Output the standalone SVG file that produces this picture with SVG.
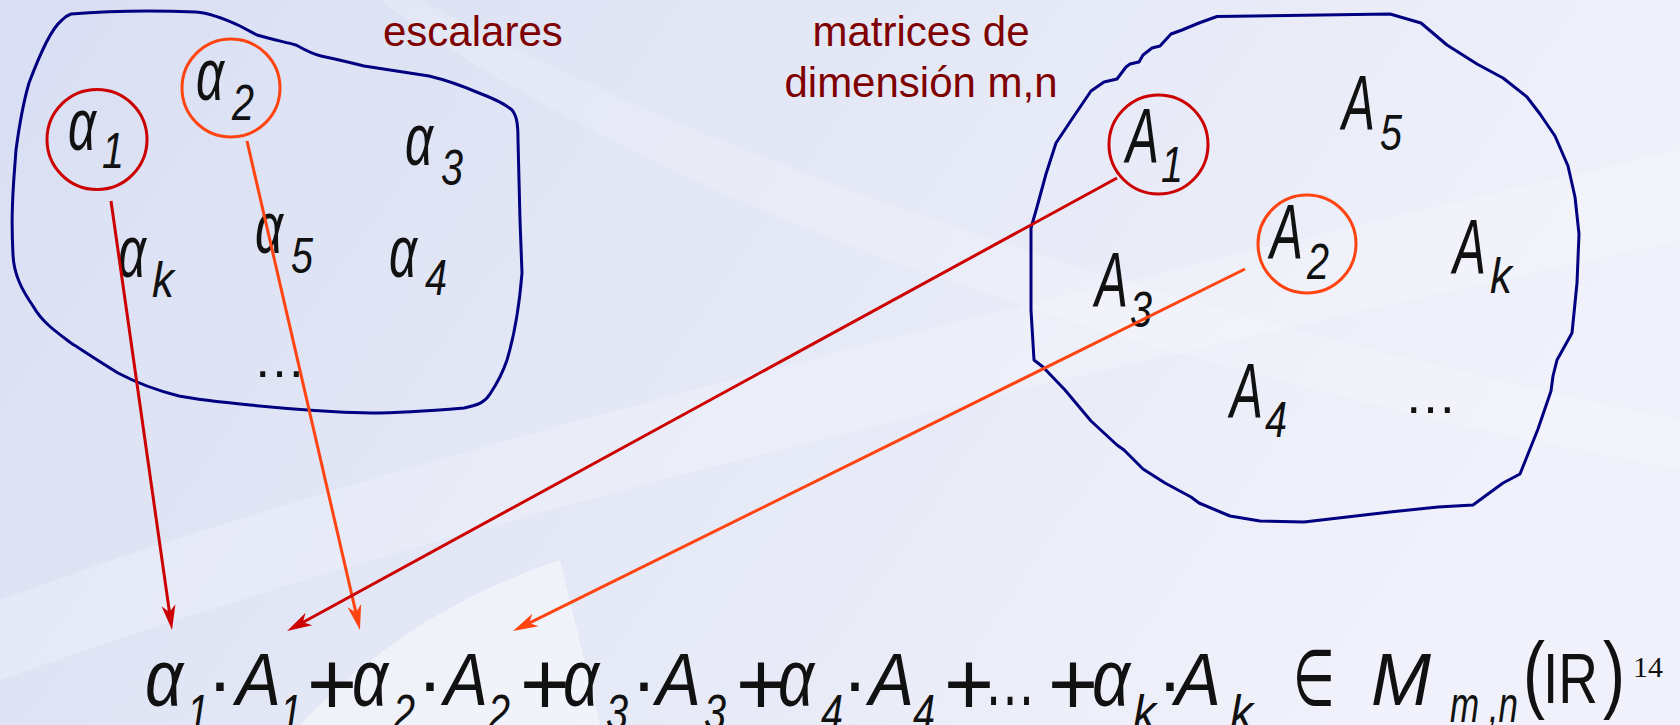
<svg xmlns="http://www.w3.org/2000/svg" width="1680" height="725" viewBox="0 0 1680 725">
<defs>
<linearGradient id="bg" x1="0" y1="0" x2="1" y2="0.3">
<stop offset="0" stop-color="#d9dff3"/>
<stop offset="0.5" stop-color="#e4e8f6"/>
<stop offset="1" stop-color="#f0f1fa"/>
</linearGradient>
<marker id="arR" markerUnits="userSpaceOnUse" markerWidth="30" markerHeight="16" refX="15" refY="7" orient="auto" overflow="visible">
<path d="M25,7 L0,0 L7,7 L0,14 Z" fill="#cc0000"/>
</marker>
<marker id="arO" markerUnits="userSpaceOnUse" markerWidth="30" markerHeight="16" refX="15" refY="7" orient="auto" overflow="visible">
<path d="M25,7 L0,0 L7,7 L0,14 Z" fill="#ff4411"/>
</marker>
</defs>
<style>
.t{font-family:"Liberation Sans","DejaVu Sans",sans-serif;fill:#111}
.i{font-style:italic}
.fa{font-size:80px}
.fA{font-size:75px}
.fs{font-size:50px}
.fo{font-size:78px}
.fp{font-size:90px}
.ba{font-size:75px}
.bA{font-size:77px}
.bs{font-size:50px}
.lbl{font-family:"Liberation Sans",sans-serif;font-size:42px;fill:#7f0000}
.blob{fill:none;stroke:#000080;stroke-width:3;stroke-linejoin:round}
.cR{fill:none;stroke:#cc0000;stroke-width:3}
.cO{fill:none;stroke:#ff4411;stroke-width:3}
.lR{stroke:#cc0000;stroke-width:3;fill:none}
.lO{stroke:#ff4411;stroke-width:3;fill:none}
</style>
<rect width="1680" height="725" fill="url(#bg)"/>
<path d="M0,600 C350,470 900,330 1680,150 L1680,240 C1000,390 450,520 0,680 Z" fill="#ffffff" opacity="0.22"/>
<path d="M420,0 C700,150 1100,300 1680,420 L1680,470 C1100,360 650,200 380,0 Z" fill="#ffffff" opacity="0.18"/>
<path d="M300,725 C380,640 470,590 560,560 L600,725 Z" fill="#ffffff" opacity="0.45"/>

<g id="escalares-set">
<path class="blob" d="M71,14 C120,10 170,11 196,12 C210,13 225,19 240,26 L257,35 C270,39 285,42 296,45 C305,50 312,54 321,56 C340,60 352,63 364,66 C390,70 410,73 429,76 C450,81 465,87 479,93 C495,99 505,104 512,110 C517,116 518,125 518,140 L520,220 L522,273 C519,310 513,340 507,360 C503,372 498,382 490,394 C485,402 479,405 464,408 C440,410 400,413 371,413 C330,412 290,409 250,405 C220,402 200,400 179,396 C155,390 135,382 118,373 C100,362 85,352 71,343 C55,331 42,322 33,306 C22,290 14,275 13,255 C12,235 12,217 12.5,205 C13,185 15,165 16,150 C20,120 24,100 29,83 C35,67 40,55 46,43 C51,33 56,25 62,20 C65,17 68,15 71,14 Z"/>
<text class="lbl" x="383" y="46">escalares</text>
</g>
<g id="alpha1">
<circle class="cR" cx="97" cy="139.5" r="50"/>
<text class="t i ba" x="68" y="150" textLength="28" lengthAdjust="spacingAndGlyphs">α</text>
<text class="t i bs" x="102" y="168" textLength="22" lengthAdjust="spacingAndGlyphs">1</text>
</g>
<g id="alpha2">
<circle class="cO" cx="231" cy="88" r="49"/>
<text class="t i ba" x="196" y="100" textLength="28" lengthAdjust="spacingAndGlyphs">α</text>
<text class="t i bs" x="232" y="120" textLength="22" lengthAdjust="spacingAndGlyphs">2</text>
</g>
<g id="alpha3">
<text class="t i ba" x="405" y="165" textLength="28" lengthAdjust="spacingAndGlyphs">α</text>
<text class="t i bs" x="441" y="185" textLength="22" lengthAdjust="spacingAndGlyphs">3</text>
</g>
<g id="alphak">
<text class="t i ba" x="118" y="277" textLength="28" lengthAdjust="spacingAndGlyphs">α</text>
<text class="t i bs" x="152" y="297" textLength="22" lengthAdjust="spacingAndGlyphs">k</text>
</g>
<g id="alpha5">
<text class="t i ba" x="255" y="253" textLength="28" lengthAdjust="spacingAndGlyphs">α</text>
<text class="t i bs" x="291" y="273" textLength="22" lengthAdjust="spacingAndGlyphs">5</text>
</g>
<g id="alpha4">
<text class="t i ba" x="389" y="277" textLength="28" lengthAdjust="spacingAndGlyphs">α</text>
<text class="t i bs" x="425" y="295" textLength="22" lengthAdjust="spacingAndGlyphs">4</text>
</g>
<g id="alpha-dots">
<text class="t" font-size="53" x="253" y="377">…</text>
</g>

<g id="matrices-set">
<path class="blob" d="M1217,16.5 L1390,14 L1421,23 L1447,45 L1477,64 L1503,78 L1527,97 L1540,114 L1555,136 L1568,166 L1575,197 L1579,234 L1577,283 L1572,333 L1557,360 L1553,376 L1551,391 L1538,429 L1520,474 L1503,483 L1473,505 L1438,507 L1390,512 L1304,522 L1260,521 L1230,516 L1199,503 L1191,497 L1165,483 L1143,469 L1124,450 L1117,445 L1091,421 L1065,390 L1043,367 L1034,360 L1031,310 L1031,228 L1037,207 L1046,174 L1056,143 L1072,119 L1091,91 L1104,82 L1117,79 L1126,67 L1130,64 L1139,62 L1143,55 L1152,48 L1160,46 L1171,34 L1182,30 L1199,23 Z"/>
<text class="lbl" x="921" y="46" text-anchor="middle">matrices de</text>
<text class="lbl" x="921" y="97" text-anchor="middle">dimensión m,n</text>
</g>
<g id="A1">
<circle class="cR" cx="1158.5" cy="144.5" r="49.5"/>
<text class="t i bA" x="1126" y="163" textLength="33" lengthAdjust="spacingAndGlyphs">A</text>
<text class="t i bs" x="1161" y="182" textLength="22" lengthAdjust="spacingAndGlyphs">1</text>
</g>
<g id="A2">
<circle class="cO" cx="1307" cy="244" r="49"/>
<text class="t i bA" x="1270" y="259" textLength="33" lengthAdjust="spacingAndGlyphs">A</text>
<text class="t i bs" x="1307" y="279" textLength="22" lengthAdjust="spacingAndGlyphs">2</text>
</g>
<g id="A5">
<text class="t i bA" x="1342" y="130" textLength="33" lengthAdjust="spacingAndGlyphs">A</text>
<text class="t i bs" x="1380" y="150" textLength="22" lengthAdjust="spacingAndGlyphs">5</text>
</g>
<g id="Ak">
<text class="t i bA" x="1453" y="274" textLength="33" lengthAdjust="spacingAndGlyphs">A</text>
<text class="t i bs" x="1490" y="293" textLength="22" lengthAdjust="spacingAndGlyphs">k</text>
</g>
<g id="A3">
<text class="t i bA" x="1095" y="307" textLength="33" lengthAdjust="spacingAndGlyphs">A</text>
<text class="t i bs" x="1130" y="327" textLength="22" lengthAdjust="spacingAndGlyphs">3</text>
</g>
<g id="A4">
<text class="t i bA" x="1230" y="418" textLength="33" lengthAdjust="spacingAndGlyphs">A</text>
<text class="t i bs" x="1265" y="437" textLength="22" lengthAdjust="spacingAndGlyphs">4</text>
</g>
<g id="A-dots">
<text class="t" font-size="53" x="1404" y="413">…</text>
</g>

<g id="formula">
<text class="t i fa" x="145" y="705" textLength="38" lengthAdjust="spacingAndGlyphs">α</text>
<text class="t i fs" x="187" y="730" textLength="22" lengthAdjust="spacingAndGlyphs">1</text>
<text class="t fo" x="207" y="708">·</text>
<text class="t i fA" x="236" y="705" textLength="45" lengthAdjust="spacingAndGlyphs">A</text>
<text class="t i fs" x="280" y="730" textLength="22" lengthAdjust="spacingAndGlyphs">1</text>
<text class="t fp" x="307" y="715" textLength="50" lengthAdjust="spacingAndGlyphs">+</text>
<text class="t i fa" x="352" y="705" textLength="36" lengthAdjust="spacingAndGlyphs">α</text>
<text class="t i fs" x="393" y="730" textLength="22" lengthAdjust="spacingAndGlyphs">2</text>
<text class="t fo" x="417" y="708">·</text>
<text class="t i fA" x="444" y="705" textLength="44" lengthAdjust="spacingAndGlyphs">A</text>
<text class="t i fs" x="488" y="730" textLength="22" lengthAdjust="spacingAndGlyphs">2</text>
<text class="t fp" x="520" y="715" textLength="50" lengthAdjust="spacingAndGlyphs">+</text>
<text class="t i fa" x="563" y="705" textLength="36" lengthAdjust="spacingAndGlyphs">α</text>
<text class="t i fs" x="606" y="730" textLength="22" lengthAdjust="spacingAndGlyphs">3</text>
<text class="t fo" x="631" y="708">·</text>
<text class="t i fA" x="656" y="705" textLength="45" lengthAdjust="spacingAndGlyphs">A</text>
<text class="t i fs" x="704" y="730" textLength="22" lengthAdjust="spacingAndGlyphs">3</text>
<text class="t fp" x="736" y="715" textLength="50" lengthAdjust="spacingAndGlyphs">+</text>
<text class="t i fa" x="778" y="705" textLength="36" lengthAdjust="spacingAndGlyphs">α</text>
<text class="t i fs" x="821" y="730" textLength="22" lengthAdjust="spacingAndGlyphs">4</text>
<text class="t fo" x="842" y="708">·</text>
<text class="t i fA" x="869" y="705" textLength="45" lengthAdjust="spacingAndGlyphs">A</text>
<text class="t i fs" x="913" y="730" textLength="22" lengthAdjust="spacingAndGlyphs">4</text>
<text class="t fp" x="944" y="715" textLength="50" lengthAdjust="spacingAndGlyphs">+</text>
<text class="t fo" x="984" y="705" textLength="52" lengthAdjust="spacingAndGlyphs">…</text>
<text class="t fp" x="1048" y="715" textLength="50" lengthAdjust="spacingAndGlyphs">+</text>
<text class="t i fa" x="1092" y="705" textLength="38" lengthAdjust="spacingAndGlyphs">α</text>
<text class="t i fs" x="1133" y="730" textLength="23" lengthAdjust="spacingAndGlyphs">k</text>
<text class="t fo" x="1157" y="708">·</text>
<text class="t i fA" x="1175" y="705" textLength="46" lengthAdjust="spacingAndGlyphs">A</text>
<text class="t i fs" x="1230" y="730" textLength="23" lengthAdjust="spacingAndGlyphs">k</text>
<text class="t fo" x="1293" y="705" textLength="42" lengthAdjust="spacingAndGlyphs">∈</text>
<text class="t i fA" x="1371" y="705" textLength="60" lengthAdjust="spacingAndGlyphs">M</text>
<text class="t i fs" x="1450" y="722" textLength="68" lengthAdjust="spacingAndGlyphs">m ,n</text>
<text class="t" font-size="85" x="1523" y="702" textLength="22" lengthAdjust="spacingAndGlyphs">(</text>
<text class="t" font-size="70" x="1543" y="703" textLength="55" lengthAdjust="spacingAndGlyphs">IR</text>
<text class="t" font-size="85" x="1603" y="702" textLength="22" lengthAdjust="spacingAndGlyphs">)</text>
<text x="1633" y="677" font-family="Liberation Serif,serif" font-size="30" fill="#111">14</text>
</g>

<g id="connectors">
<line class="lR" x1="111" y1="201" x2="170.6" y2="620.1" marker-end="url(#arR)"/>
<line class="lO" x1="247" y1="141" x2="357.7" y2="620.3" marker-end="url(#arO)"/>
<line class="lR" x1="1117" y1="178" x2="295.8" y2="626.2" marker-end="url(#arR)"/>
<line class="lO" x1="1245" y1="269" x2="522" y2="626.6" marker-end="url(#arO)"/>
</g>
</svg>
